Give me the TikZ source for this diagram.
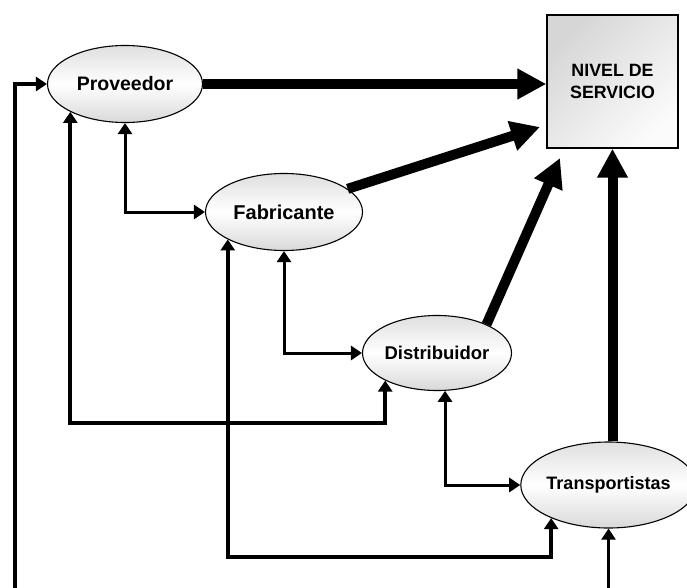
\documentclass[tikz,border=0pt]{standalone}
\usepackage{fontspec}
\setmainfont{Liberation Sans}
\usetikzlibrary{arrows.meta,shapes.geometric}
\begin{document}
\begin{tikzpicture}[x=1pt,y=-1pt,
  oval/.style={ellipse, draw, line width=1.1pt, inner sep=0pt,
    top color=gray!25, bottom color=gray!30, middle color=white},
  big/.style={line width=10pt, -{Triangle[length=29pt,width=29pt]}},
  conn/.style={line width=4pt},
  midconn/.style={line width=3pt},
  onetip/.style={-{Triangle[length=11pt,width=14pt]}},
  twotip/.style={{Triangle[length=11pt,width=14pt]}-{Triangle[length=11pt,width=14pt]}}]
\useasboundingbox (0,0) rectangle (687,588);

% nodes
\node[oval, minimum width=155pt, minimum height=77pt,
  font=\fontsize{19.5}{22}\selectfont\bfseries] (prov) at (125,84) {Proveedor};
\node[oval, minimum width=157pt, minimum height=77pt,
  font=\fontsize{20}{22}\selectfont\bfseries] (fab) at (284,212) {Fabricante};
\node[oval, minimum width=149pt, minimum height=75pt,
  font=\fontsize{18.5}{22}\selectfont\bfseries] (dist) at (437,353) {Distribuidor};
\node[oval, minimum width=157pt, minimum height=86pt,
  font=\fontsize{18}{22}\selectfont\bfseries] (trans) at (608.5,485) {Transportistas};
\node[draw, line width=1.4pt, minimum width=131pt, minimum height=133pt, inner sep=0pt,
  align=center, top color=gray!32, bottom color=gray!3, shading angle=45,
  font=\fontsize{17.8}{22}\selectfont\bfseries] (box) at (612.5,81.5) {NIVEL DE\\SERVICIO};

% helper coordinates
\coordinate (b1) at (15,588);
\coordinate (ylow1) at (0,423);
\coordinate (ylow2) at (0,557);
\coordinate (t1) at (540,127);
\coordinate (t2) at (560,158);

% thin connectors
\draw[conn, onetip] (b1) |- (prov.west);
\draw[line width=2.2pt, onetip] (trans.south |- b1) -- (trans.south);
\draw[midconn, twotip] (prov.south) |- (fab.west);
\draw[conn, twotip] (prov.207) -- (prov.207 |- ylow1) -| (dist.208);
\draw[conn, twotip] (fab.206) -- (fab.206 |- ylow2) -| (trans.210);
\draw[midconn, twotip] (fab.south) |- (dist.west);
\draw[midconn, twotip] (dist.282) |- (trans.west);

% thick arrows to the box
\draw[big] (prov.east) -- (prov.east -| box.west);
\draw[big] (fab.20) -- (t1);
\draw[big] (dist.30) -- (t2);
\draw[big] (box.south |- trans.north) -- (box.south);
\end{tikzpicture}
\end{document}
